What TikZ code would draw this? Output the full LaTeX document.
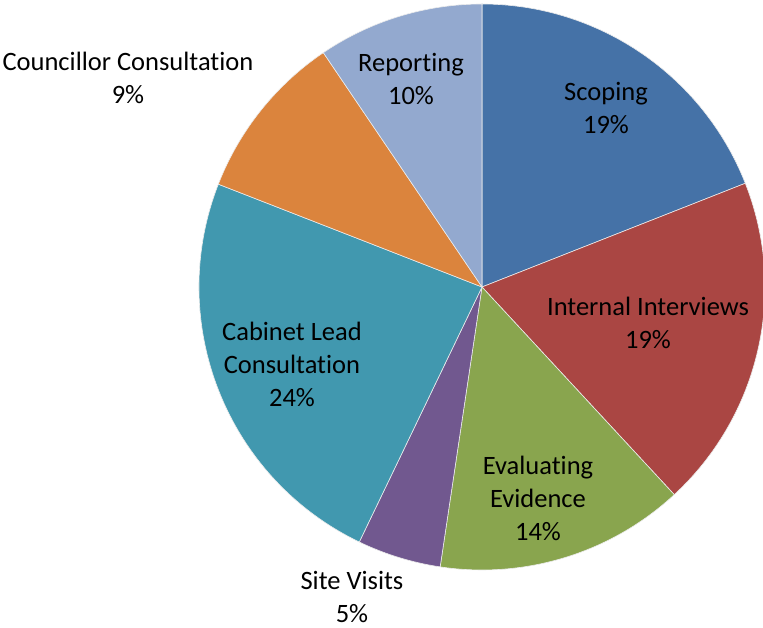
\documentclass[tikz,border=0pt]{standalone}
\usepackage{fontspec}
\setmainfont{Carlito}[Ligatures=NoCommon]
\usepackage{tikz}

\definecolor{scopblue}{HTML}{4572A7}
\definecolor{intred}{HTML}{AA4643}
\definecolor{evalgreen}{HTML}{89A54E}
\definecolor{sitepurple}{HTML}{71588F}
\definecolor{cabteal}{HTML}{4198AF}
\definecolor{counorange}{HTML}{DB843D}
\definecolor{replight}{HTML}{93A9CF}

\begin{document}
\begin{tikzpicture}[x=1pt, y=1pt,
		slice/.style={draw=white!85!gray, line width=0.6pt, line join=round},
		lbl/.style={align=center, inner sep=0pt, font=\fontsize{26.5}{33}\selectfont}]
		\useasboundingbox (-482,-341) rectangle (281,287);
		\foreach \a/\b/\c in {90/21.5/scopblue, 21.5/-47.2/intred, -47.2/-98.5/evalgreen,
			-98.5/-115.7/sitepurple, -115.7/-201.3/cabteal, 158.7/124.1/counorange, 124.1/90/replight}
		\filldraw[slice, fill=\c] (0,0) -- (\a:283) arc[start angle=\a, end angle=\b, radius=283] -- cycle;
		
		\node[lbl] (1) at (124,179) {Scoping\\19\%};
		\node[lbl] (2) at (166,-35.5) {Internal Interviews\\19\%};
		\node[lbl] (3) at (56,-211) {Evaluating\\Evidence\\14\%};
		\node[lbl] (4) at (-130,-310) {Site Visits\\5\%};
		\node[lbl] (5) at (-190,-77) {Cabinet Lead\\Consultation\\24\%};
		\node[lbl] (6) at (-354,209) {Councillor Consultation\\9\%};
		\node[lbl] (7) at (-71,207.5) {Reporting\\10\%};
		
	\end{tikzpicture}
\end{document}
